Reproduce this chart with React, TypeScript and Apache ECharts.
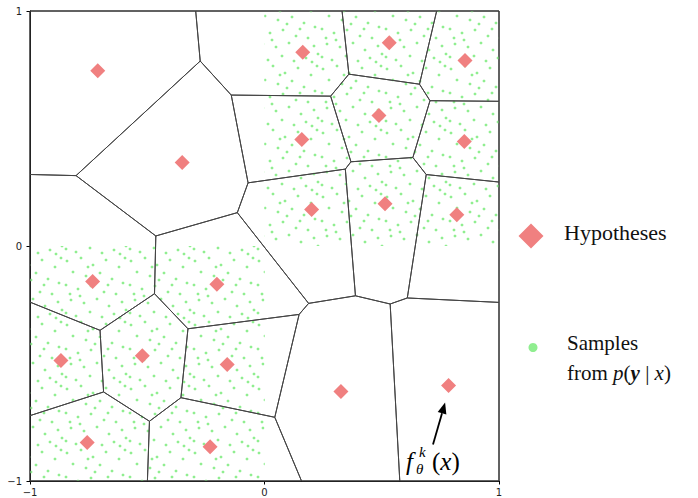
import { useEffect, useRef } from "react";
import * as echarts from "echarts";

// ---------- data ----------
const axisTicks = [-1, 0, 1];

const hypothesisX = [
  -0.711, -0.351, 0.163, 0.532, 0.855, 0.488, 0.159, 0.852, 0.201, 0.514,
  0.82, -0.733, -0.203, -0.868, -0.521, -0.159, -0.756, -0.232, 0.326, 0.785,
];
const hypothesisY = [
  0.746, 0.355, 0.825, 0.865, 0.789, 0.555, 0.453, 0.445, 0.155, 0.18,
  0.133, -0.151, -0.163, -0.487, -0.467, -0.504, -0.836, -0.854, -0.619, -0.594,
];

// regions where samples from p(y | x) are spread uniformly: [min, max]
const sampleRegionX = [
  [0, 1],
  [-1, 0],
];
const sampleRegionY = [
  [0, 1],
  [-1, 0],
];

const legendHypotheses = "Hypotheses";
const legendSamples = "Samples";
const annotatedHypothesis = 19;

// ---------- styles ----------
const HYP_COLOR = "#F08080";
const SAMPLE_COLOR = "#90EE90";
const EDGE_COLOR = "#444";
const SERIF = '"Liberation Serif", "DejaVu Serif", serif';

// stipple texture (64px tile) used to paint the uniform sample clouds — pure styling
const STIPPLE_TILE = 64;
const STIPPLE =
  "3,5 17,2 29,9 42,4 55,11 61,2 9,16 22,20 36,17 48,23 59,27 2,29 14,33 27,30 40,36 52,38 " +
  "7,44 20,47 33,43 45,50 58,46 2,57 12,60 26,56 38,61 50,58 62,54 31,24 16,40 44,29 56,62 24,11 6,38";
const STIPPLE_LAYERS = [
  { rot: 0, dx: 0, dy: 0 },
  { rot: 57, dx: 23, dy: 41 },
];

type P = [number, number];

function clipHalfPlane(poly: P[], a: P, b: P): P[] {
  const dx = b[0] - a[0];
  const dy = b[1] - a[1];
  const mx = (a[0] + b[0]) / 2;
  const my = (a[1] + b[1]) / 2;
  const f = (p: P) => (p[0] - mx) * dx + (p[1] - my) * dy;
  const out: P[] = [];
  for (let i = 0; i < poly.length; i++) {
    const p = poly[i];
    const q = poly[(i + 1) % poly.length];
    const fp = f(p);
    const fq = f(q);
    if (fp <= 0) out.push(p);
    if ((fp < 0 && fq > 0) || (fp > 0 && fq < 0)) {
      const t = fp / (fp - fq);
      out.push([p[0] + t * (q[0] - p[0]), p[1] + t * (q[1] - p[1])]);
    }
  }
  return out;
}

const sites: P[] = hypothesisX.map((x, i) => [x, hypothesisY[i]] as P);
const cells: P[][] = sites.map((s, i) => {
  let poly: P[] = [
    [-1, -1],
    [1, -1],
    [1, 1],
    [-1, 1],
  ];
  sites.forEach((t, j) => {
    if (j !== i) poly = clipHalfPlane(poly, s, t);
  });
  return poly;
});

function stippleImage() {
  const dots = STIPPLE.split(" ")
    .map((s) => s.split(","))
    .map(([x, y]) => `<circle cx='${x}' cy='${y}' r='1.3' fill='${SAMPLE_COLOR}'/>`)
    .join("");
  const svg = `<svg xmlns='http://www.w3.org/2000/svg' width='${STIPPLE_TILE}' height='${STIPPLE_TILE}'>${dots}</svg>`;
  return "data:image/svg+xml;charset=utf-8," + encodeURIComponent(svg);
}

const stippleSrc = stippleImage();
const texturePatterns = STIPPLE_LAYERS.map((l) => ({
  image: stippleSrc,
  repeat: "repeat",
  imageWidth: STIPPLE_TILE,
  imageHeight: STIPPLE_TILE,
  rotation: l.rot,
  x: l.dx,
  y: l.dy,
}));

const tickFmt = (v: number) => String(v).replace("-", "\u2212");

function buildGraphics(chart: any) {
  const els: any[] = [];
  // legend: hypotheses
  const dc = [531, 236];
  const hs = 12.5;
  els.push({
    type: "polygon",
    shape: {
      points: [
        [dc[0], dc[1] - hs],
        [dc[0] + hs, dc[1]],
        [dc[0], dc[1] + hs],
        [dc[0] - hs, dc[1]],
      ],
    },
    style: { fill: HYP_COLOR },
  });
  els.push({
    type: "text",
    x: 564,
    y: 232,
    style: {
      text: legendHypotheses,
      font: `22px ${SERIF}`,
      fill: "#111",
      verticalAlign: "middle",
      align: "left",
    },
  });
  // legend: samples
  els.push({
    type: "circle",
    shape: { cx: 533, cy: 347.5, r: 4.5 },
    style: { fill: SAMPLE_COLOR },
  });
  els.push({
    type: "text",
    x: 567,
    y: 343,
    style: {
      text: legendSamples,
      font: `21px ${SERIF}`,
      fill: "#111",
      verticalAlign: "middle",
      align: "left",
    },
  });
  els.push({
    type: "text",
    x: 567,
    y: 373,
    style: {
      text: "{t|from }{m|p}{t|(}{b|y}{t| | }{m|x}{t|)}",
      verticalAlign: "middle",
      align: "left",
      rich: {
        t: { font: `21px ${SERIF}`, fill: "#111" },
        m: { font: `italic 21px ${SERIF}`, fill: "#111" },
        b: { font: `italic bold 21px ${SERIF}`, fill: "#111" },
      },
    },
  });

  // annotation f_theta^k(x) with arrow to a hypothesis
  const target = chart.convertToPixel({ gridIndex: 0 }, [
    hypothesisX[annotatedHypothesis],
    hypothesisY[annotatedHypothesis],
  ]);
  const tip: P = [target[0] - 3.5, target[1] + 17];
  const tail: P = [433, 444.5];
  const vx = tip[0] - tail[0];
  const vy = tip[1] - tail[1];
  const len = Math.hypot(vx, vy);
  const ux = vx / len;
  const uy = vy / len;
  const headL = 11;
  const headW = 4.5;
  const base: P = [tip[0] - ux * headL, tip[1] - uy * headL];
  els.push({
    type: "line",
    shape: { x1: tail[0], y1: tail[1], x2: base[0], y2: base[1] },
    style: { stroke: "#000", lineWidth: 1.8 },
  });
  els.push({
    type: "polygon",
    shape: {
      points: [
        tip,
        [base[0] - uy * headW, base[1] + ux * headW],
        [base[0] + uy * headW, base[1] - ux * headW],
      ],
    },
    style: { fill: "#000" },
  });
  els.push({
    type: "text",
    x: 406,
    y: 461,
    style: { text: "f", font: `italic 25px ${SERIF}`, fill: "#000", verticalAlign: "middle" },
  });
  els.push({
    type: "text",
    x: 419,
    y: 452,
    style: { text: "k", font: `italic 15px ${SERIF}`, fill: "#000", verticalAlign: "middle" },
  });
  els.push({
    type: "text",
    x: 416,
    y: 469,
    style: { text: "\u03b8", font: `italic 15px ${SERIF}`, fill: "#000", verticalAlign: "middle" },
  });
  els.push({
    type: "text",
    x: 432,
    y: 461,
    style: {
      text: "{t|(}{m|x}{t|)}",
      verticalAlign: "middle",
      align: "left",
      rich: {
        t: { font: `25px ${SERIF}`, fill: "#000" },
        m: { font: `italic 25px ${SERIF}`, fill: "#000" },
      },
    },
  });
  return els;
}

export default function App() {
  const ref = useRef<HTMLDivElement>(null);
  useEffect(() => {
    document.body.style.margin = "0";
    const chart = echarts.init(ref.current!, null, {
      renderer: "svg",
      width: 698,
      height: 498,
    });
    const axisCommon = {
      type: "value",
      min: axisTicks[0],
      max: axisTicks[axisTicks.length - 1],
      interval: 1,
      splitLine: { show: false },
      axisLine: { show: true, onZero: false, lineStyle: { color: "#000", width: 1 } },
      axisTick: { show: true, length: 3.5, lineStyle: { color: "#000", width: 1 } },
    };
    chart.setOption({
      animation: false,
      backgroundColor: "#fff",
      grid: {
        left: 30,
        top: 11,
        width: 469,
        height: 470,
        show: true,
        borderColor: "#000",
        borderWidth: 1,
        backgroundColor: "transparent",
      },
      xAxis: {
        ...axisCommon,
        axisLabel: {
          formatter: tickFmt,
          fontFamily: '"DejaVu Sans", sans-serif',
          fontSize: 10,
          color: "#222",
          margin: 6,
          showMinLabel: true,
          showMaxLabel: true,
        },
      },
      yAxis: {
        ...axisCommon,
        axisLabel: {
          formatter: tickFmt,
          fontFamily: '"DejaVu Sans", sans-serif',
          fontSize: 10,
          color: "#222",
          margin: 8,
          showMinLabel: true,
          showMaxLabel: true,
        },
      },
      series: [
        {
          name: "Samples",
          type: "custom",
          z: 1,
          silent: true,
          data: sampleRegionX.map((rx, i) => [rx[0], rx[1], sampleRegionY[i][0], sampleRegionY[i][1]]),
          encode: { x: [0, 1], y: [2, 3] },
          renderItem: (_params: any, api: any) => {
            const p0 = api.coord([api.value(0), api.value(3)]);
            const p1 = api.coord([api.value(1), api.value(2)]);
            return {
              type: "group",
              children: texturePatterns.map((pat) => ({
                type: "rect",
                shape: { x: p0[0], y: p0[1], width: p1[0] - p0[0], height: p1[1] - p0[1] },
                style: { fill: pat, stroke: null },
              })),
            };
          },
        },
        {
          name: "Voronoi",
          type: "custom",
          z: 2,
          silent: true,
          data: sites,
          encode: { x: 0, y: 1 },
          renderItem: (params: any, api: any) => ({
            type: "polygon",
            shape: { points: cells[params.dataIndex].map((p) => api.coord(p)) },
            style: { fill: "none", stroke: EDGE_COLOR, lineWidth: 1 },
          }),
        },
        {
          name: "Hypotheses",
          type: "scatter",
          z: 3,
          symbol: "diamond",
          symbolSize: 15,
          itemStyle: { color: HYP_COLOR, opacity: 1 },
          data: sites,
        },
      ],
    });
    chart.setOption({ graphic: buildGraphics(chart) });
    return () => chart.dispose();
  }, []);
  return (
    <div
      ref={ref}
      style={{ position: "absolute", left: 0, top: 0, width: 698, height: 498, background: "#fff" }}
    />
  );
}
